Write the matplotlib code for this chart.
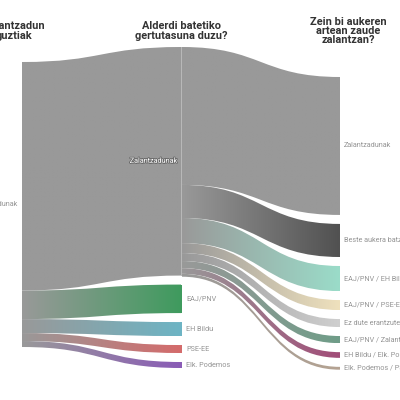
import numpy as np
import matplotlib.pyplot as plt
from matplotlib.path import Path
from matplotlib.patches import PathPatch, Rectangle
import matplotlib.patheffects as pe
from matplotlib.colors import to_rgb

plt.rcParams['font.family'] = ['Roboto', 'DejaVu Sans']

# nodes per column (percent of all undecided voters)
col0 = ['Zalantzadunak']
col0_vals = [100.0]

col1 = ['Zalantzadunak', 'EAJ/PNV', 'EH Bildu', 'PSE-EE', 'Elk. Podemos']
col1_vals = [80.2, 10.0, 4.9, 2.8, 2.1]
col1_colors = ['#999999', '#3f9b5e', '#6db4c4', '#d46b6b', '#8a5cb6']

col2 = ['Zalantzadunak', 'Beste aukera batzuk', 'EAJ/PNV / EH Bildu',
        'EAJ/PNV / PSE-EE', 'Ez dute erantzuten', 'EAJ/PNV / Zalantzadunak',
        'EH Bildu / Elk. Podemos', 'Elk. Podemos / PSE-EE']
col2_vals = [48.4, 11.6, 8.8, 3.5, 2.8, 2.5, 2.0, 1.0]
col2_colors = ['#999999', '#515151', '#9bdcc9', '#efe1bd', '#cfcfcf',
               '#6f9d88', '#a24c78', '#b5a392']

titles = ['Zalantzadun\nguztiak', 'Alderdi batetiko\ngertutasuna duzu?',
          'Zein bi aukeren\nartean zaude\nzalantzan?']

# layout (pixels)
col_x = [22, 181, 340]
col_top = [62, 47, 77]
gap = 9
k = 2.85  # px per percent

fig = plt.figure(figsize=(4, 4), dpi=100)
ax = fig.add_axes([0, 0, 1, 1])
ax.set_xlim(0, 400)
ax.set_ylim(400, 0)
ax.axis('off')


def stack(vals, top):
    pos = []
    y = top
    for v in vals:
        pos.append((y, y + v * k))
        y += v * k + gap
    return pos


def link(x0, y0a, y0b, x1, y1a, y1b, c0, c1):
    xm = (x0 + x1) / 2
    verts = [(x0, y0a), (xm, y0a), (xm, y1a), (x1, y1a),
             (x1, y1b), (xm, y1b), (xm, y0b), (x0, y0b), (x0, y0a)]
    codes = [Path.MOVETO, Path.CURVE4, Path.CURVE4, Path.CURVE4,
             Path.LINETO, Path.CURVE4, Path.CURVE4, Path.CURVE4, Path.CLOSEPOLY]
    patch = PathPatch(Path(verts, codes), facecolor='none', edgecolor='none')
    ax.add_patch(patch)
    a, b = np.array(to_rgb(c0)), np.array(to_rgb(c1))
    t = np.linspace(0, 1, 200)[None, :, None]
    img = a + (b - a) * t
    lo, hi = min(y0a, y1a), max(y0b, y1b)
    im = ax.imshow(img, extent=[x0, x1, hi, lo], aspect='auto', zorder=1,
                   interpolation='bilinear')
    im.set_clip_path(patch)


n0 = stack(col0_vals, col_top[0])
n1 = stack(col1_vals, col_top[1])
n2 = stack(col2_vals, col_top[2])

# links column 0 -> column 1
y = n0[0][0]
for (a, b), v, c in zip(n1, col1_vals, col1_colors):
    h = v * k
    link(col_x[0], y, y + h, col_x[1], a, b, '#999999', c)
    y += h

# links column 1 (Zalantzadunak) -> column 2
y = n1[0][0]
for (a, b), v, c in zip(n2, col2_vals, col2_colors):
    h = v * k
    link(col_x[1] + 1, y, y + h, col_x[2], a, b, '#999999', c)
    y += h

# nodes
ax.add_patch(Rectangle((col_x[1] - 0.5, n1[0][0]), 1.2, n1[0][1] - n1[0][0],
                       color='#b8b8b8', zorder=3, lw=0))
for (a, b), c in zip(n1[1:], col1_colors[1:]):
    ax.add_patch(Rectangle((col_x[1] - 1, a), 1.5, b - a, color=c, zorder=3, lw=0))

lab = dict(fontsize=5.2, color='#949494', va='center')
ax.text(18, sum(n0[0]) / 2, col0[0], ha='right', **lab)
ax.text(177, sum(n1[0]) / 2, col1[0], ha='right', va='center', fontsize=5.2,
        color='white', zorder=5,
        path_effects=[pe.withStroke(linewidth=1.2, foreground='#6a6a6a')])
for (a, b), name in zip(n1[1:], col1[1:]):
    ax.text(186, (a + b) / 2, name, ha='left', **lab)
for (a, b), name in zip(n2, col2):
    ax.text(344, (a + b) / 2, name, ha='left', **lab)

title_x = [14, 181, 348]
title_y = [31, 31, 31]
for tx, ty, t in zip(title_x, title_y, titles):
    ax.text(tx, ty, t, ha='center', va='center', fontsize=7.9, weight='bold',
            color='#333333', linespacing=0.92)

fig.savefig('out.png', dpi=100)
